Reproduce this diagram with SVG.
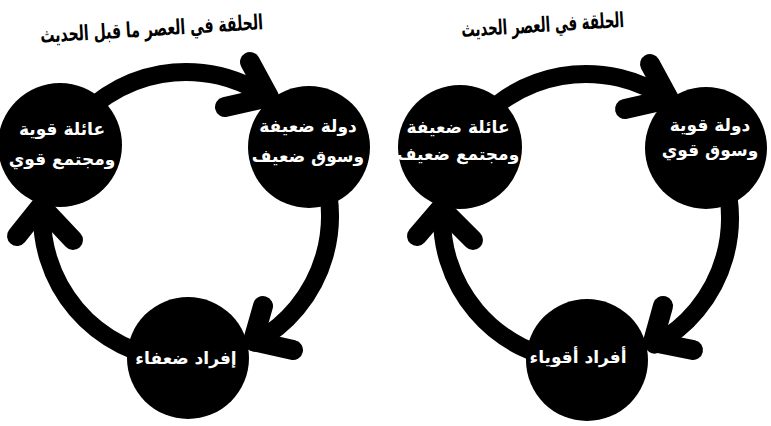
<svg xmlns="http://www.w3.org/2000/svg" width="771" height="426" viewBox="0 0 771 426">
<style>
.node{fill:#000}
.lbl{fill:#fff;font-family:"DejaVu Sans",sans-serif;font-size:17px;font-weight:bold;text-anchor:middle;direction:rtl}
.ttl{fill:#000;font-family:"DejaVu Sans",sans-serif;font-size:21px;font-weight:bold;text-anchor:middle;direction:rtl}
.arc{fill:none;stroke:#000;stroke-width:18;stroke-linecap:round}
.barb{fill:none;stroke:#000;stroke-width:20;stroke-linecap:round;stroke-linejoin:round}
</style>
<rect width="771" height="426" fill="#fff"/>
<g id="titles">
<text class="ttl" x="152" y="36" transform="rotate(-3.5 152 36)" textLength="223" lengthAdjust="spacingAndGlyphs">الحلقة في العصر ما قبل الحديث</text>
<text class="ttl" x="543" y="32" transform="rotate(-3.5 543 32)" textLength="163" lengthAdjust="spacingAndGlyphs">الحلقة في العصر الحديث</text>
</g>
<g id="connectors">
<path class="arc" d="M68,133.4 A144,144 0 0 1 268.6,98"/>
<path class="barb" d="M250,62 L269,97 L225,107"/>
<path class="arc" d="M310.7,144 A144,144 0 0 1 254.5,342.7"/>
<path class="barb" d="M263,306 L253,341 L293,350"/>
<path class="arc" d="M173.4,359.5 A144,144 0 0 1 42.4,205.2"/>
<path class="barb" d="M17,236 L41,206 L73,240"/>
<path class="arc" d="M468,135.4 A144,144 0 0 1 668.6,100"/>
<path class="barb" d="M650,64 L669,99 L625,109"/>
<path class="arc" d="M710.7,146 A144,144 0 0 1 654.5,344.7"/>
<path class="barb" d="M663,306 L653,342 L693,350"/>
<path class="arc" d="M573.4,361.5 A144,144 0 0 1 442.4,207.2"/>
<path class="barb" d="M417,236 L441,208 L473,240"/>
</g>
<g id="left-family">
<circle class="node" cx="60" cy="145" r="62"/>
<text class="lbl" x="62" y="135">عائلة قوية</text>
<text class="lbl" x="62" y="165">ومجتمع قوي</text>
</g>
<g id="left-state">
<circle class="node" cx="309" cy="147" r="61"/>
<text class="lbl" x="308" y="132">دولة ضعيفة</text>
<text class="lbl" x="308" y="162">وسوق ضعيف</text>
</g>
<g id="left-individuals">
<circle class="node" cx="188" cy="358" r="61"/>
<text class="lbl" x="186" y="364">إفراد ضعفاء</text>
</g>
<g id="right-family">
<circle class="node" cx="460" cy="147" r="62"/>
<text class="lbl" x="458" y="133">عائلة ضعيفة</text>
<text class="lbl" x="458" y="160">ومجتمع ضعيف</text>
</g>
<g id="right-state">
<circle class="node" cx="706" cy="148" r="61"/>
<text class="lbl" x="710" y="131">دولة قوية</text>
<text class="lbl" x="710" y="156">وسوق قوي</text>
</g>
<g id="right-individuals">
<circle class="node" cx="587" cy="360" r="61"/>
<text class="lbl" x="578" y="363">أفراد أقوياء</text>
</g>
</svg>
